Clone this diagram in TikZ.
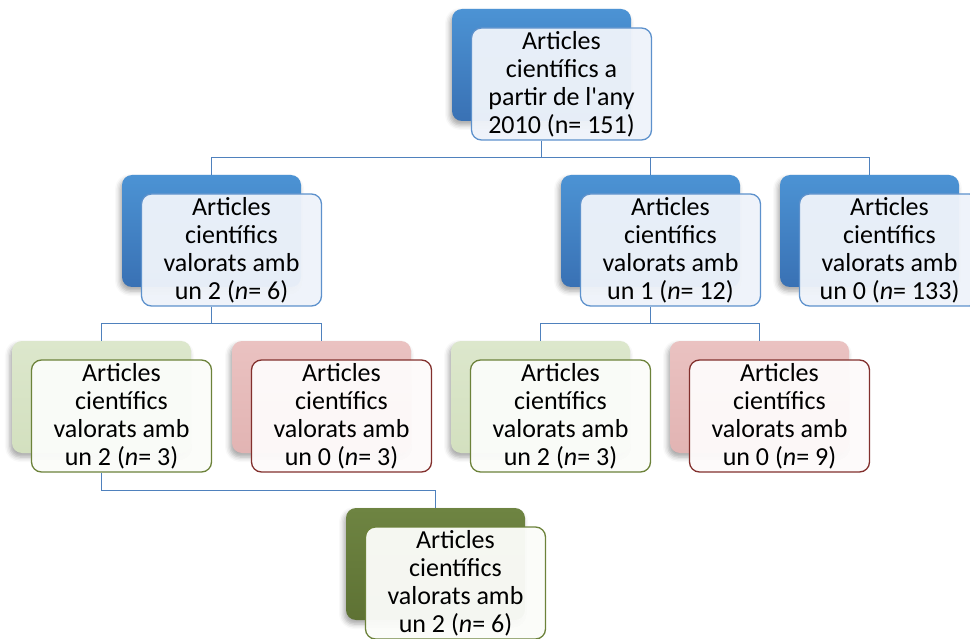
\documentclass[tikz,border=0pt]{standalone}
\usepackage{fontspec}
\setmainfont{Carlito}
\usetikzlibrary{shadows.blur}
\pgfdeclarelayer{bg}
\pgfsetlayers{bg,main}
\definecolor{blueA}{RGB}{76,147,212}
\definecolor{blueB}{RGB}{57,113,180}
\definecolor{conncol}{RGB}{79,129,189}
\definecolor{frontblue}{RGB}{93,145,204}
\definecolor{frontbluefill}{RGB}{238,243,250}
\definecolor{greenA}{RGB}{220,231,204}
\definecolor{greenB}{RGB}{211,224,191}
\definecolor{greenline}{RGB}{108,130,58}
\definecolor{greenfill}{RGB}{251,252,249}
\definecolor{redA}{RGB}{234,194,193}
\definecolor{redB}{RGB}{226,180,179}
\definecolor{redline}{RGB}{130,48,45}
\definecolor{redfill}{RGB}{253,250,250}
\definecolor{oliveA}{RGB}{110,132,66}
\definecolor{oliveB}{RGB}{94,114,52}
\tikzset{
  backbox/.style={rounded corners=10pt, minimum width=179pt, minimum height=112pt, inner sep=0pt,
    blur shadow={shadow xshift=-2pt, shadow yshift=-4pt, shadow blur radius=5pt, shadow opacity=35}},
  bblue/.style={backbox, top color=blueA, bottom color=blueB},
  bgreen/.style={backbox, top color=greenA, bottom color=greenB},
  bred/.style={backbox, top color=redA, bottom color=redB},
  bolive/.style={backbox, top color=oliveA, bottom color=oliveB},
  frontbox/.style={rounded corners=10pt, minimum width=180pt, minimum height=112pt, inner sep=0pt,
    align=center, line width=1.3pt, font=\fontsize{26}{28}\selectfont, text=black, text opacity=1},
  fblue/.style={frontbox, draw=frontblue, fill=frontbluefill, fill opacity=0.96},
  fgreen/.style={frontbox, draw=greenline, fill=greenfill, fill opacity=0.97},
  fred/.style={frontbox, draw=redline, fill=redfill, fill opacity=0.97},
  folive/.style={frontbox, draw=greenline, fill=greenfill, fill opacity=0.96},
  conn/.style={draw=conncol, line width=1.5pt},
}
\newcommand\mkunit[6]{%
  \node[#4] (#1B) at (#2,#3) {};
  \node[#5] (#1F) at ([shift={(20pt,-19pt)}]#1B.center) {#6};
}
\begin{document}
\begin{tikzpicture}[x=1pt,y=-1pt]
\useasboundingbox (0,0) rectangle (970,639);
\clip (0,0) rectangle (970,639);
% units
\mkunit{top}{541.5}{65}{bblue}{fblue}{Articles\\científics a\\partir de l\textquotesingle any\\2010 (n= 151)}
\mkunit{ba}{211.5}{231}{bblue}{fblue}{Articles\\científics\\valorats amb\\un 2 (\textit{n}= 6)}
\mkunit{bb}{650.5}{231}{bblue}{fblue}{Articles\\científics\\valorats amb\\un 1 (\textit{n}= 12)}
\mkunit{bc}{869.5}{231}{bblue}{fblue}{Articles\\científics\\valorats amb\\un 0 (\textit{n}= 133)}
\mkunit{ca}{101.5}{397}{bgreen}{fgreen}{Articles\\científics\\valorats amb\\un 2 (\textit{n}= 3)}
\mkunit{cb}{321.5}{397}{bred}{fred}{Articles\\científics\\valorats amb\\un 0 (\textit{n}= 3)}
\mkunit{cc}{540.5}{397}{bgreen}{fgreen}{Articles\\científics\\valorats amb\\un 2 (\textit{n}= 3)}
\mkunit{cd}{759.5}{397}{bred}{fred}{Articles\\científics\\valorats amb\\un 0 (\textit{n}= 9)}
\mkunit{da}{435.5}{564}{bolive}{folive}{Articles\\científics\\valorats amb\\un 2 (\textit{n}= 6)}
% connectors
\begin{pgfonlayer}{bg}
\draw[conn] (topB.center |- topF.south) -- ++(0,17) coordinate (j0);
\draw[conn] (j0) -| (baB.north);
\draw[conn] (j0) -| (bbB.north);
\draw[conn] (j0) -| (bcB.north);
\draw[conn] (baB.center |- baF.south) -- ++(0,17) coordinate (j1);
\draw[conn] (j1) -| (caB.north);
\draw[conn] (j1) -| (cbB.north);
\draw[conn] (bbB.center |- bbF.south) -- ++(0,17) coordinate (j2);
\draw[conn] (j2) -| (ccB.north);
\draw[conn] (j2) -| (cdB.north);
\draw[conn] (caB.center |- caF.south) -- ++(0,18) coordinate (j3);
\draw[conn] (j3) -| (daB.north);
\end{pgfonlayer}
\end{tikzpicture}
\end{document}
